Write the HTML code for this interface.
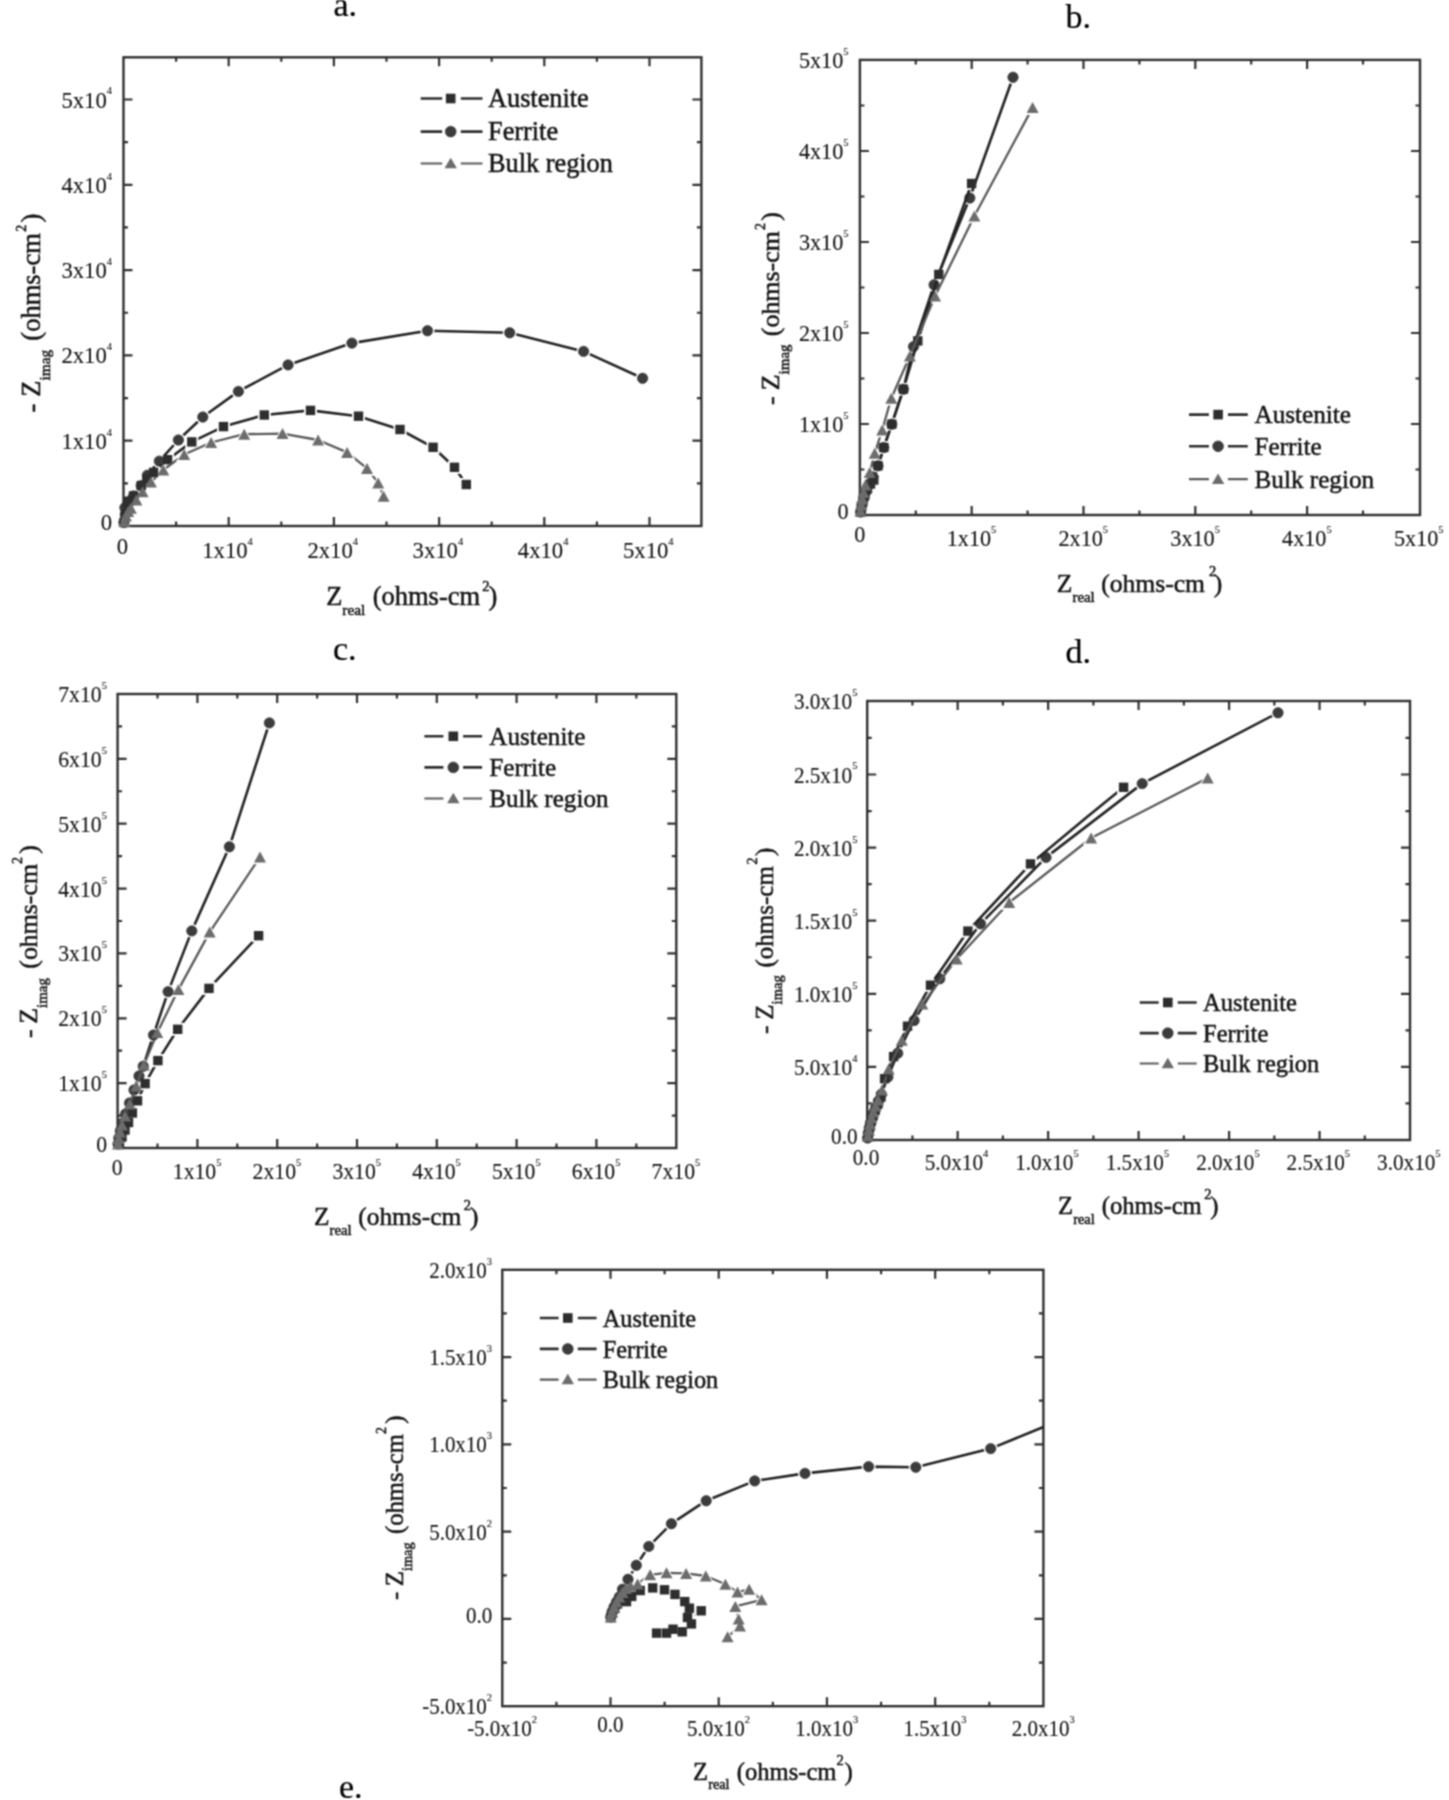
<!DOCTYPE html><html><head><meta charset="utf-8"><style>html,body{margin:0;padding:0;background:#fff;}svg{display:block;}text{fill:#141414;stroke:#141414;stroke-width:0.5px;}text.t{stroke-width:0.12px;}</style></head><body>
<svg width="1449" height="1800" viewBox="0 0 1449 1800" font-family='"Liberation Serif", serif' fill="#262626">
<rect width="1449" height="1800" fill="#fff"/>
<filter id="bl" x="0" y="0" width="1" height="1" filterUnits="objectBoundingBox" color-interpolation-filters="sRGB"><feConvolveMatrix order="3" kernelMatrix="1 2 1 2 4 2 1 2 1" divisor="16" edgeMode="none"/></filter>
<g filter="url(#bl)"><rect width="1449" height="1800" fill="#fff"/>
<text x="333.5" y="16.2" font-size="34" style="fill:#000;stroke:#000;stroke-width:0.2px">a.</text>
<text x="1065.5" y="28.4" font-size="34" style="fill:#000;stroke:#000;stroke-width:0.2px">b.</text>
<text x="333" y="660" font-size="34" style="fill:#000;stroke:#000;stroke-width:0.2px">c.</text>
<text x="1065.5" y="663.1" font-size="34" style="fill:#000;stroke:#000;stroke-width:0.2px">d.</text>
<text x="339" y="1798" font-size="34" style="fill:#000;stroke:#000;stroke-width:0.2px">e.</text>
<rect x="123.5" y="57.3" width="577.9" height="468.7" fill="none" stroke="#303030" stroke-width="2.4"/>
<path d="M176.1 526V521.5M176.1 57.3V61.8M228.7 526V517M228.7 57.3V66.3M281.3 526V521.5M281.3 57.3V61.8M333.9 526V517M333.9 57.3V66.3M386.5 526V521.5M386.5 57.3V61.8M439.1 526V517M439.1 57.3V66.3M491.7 526V521.5M491.7 57.3V61.8M544.3 526V517M544.3 57.3V66.3M596.9 526V521.5M596.9 57.3V61.8M649.5 526V517M649.5 57.3V66.3M123.5 483.35H128M701.4 483.35H696.9M123.5 440.7H132.5M701.4 440.7H692.4M123.5 398.05H128M701.4 398.05H696.9M123.5 355.4H132.5M701.4 355.4H692.4M123.5 312.75H128M701.4 312.75H696.9M123.5 270.1H132.5M701.4 270.1H692.4M123.5 227.45H128M701.4 227.45H696.9M123.5 184.8H132.5M701.4 184.8H692.4M123.5 142.15H128M701.4 142.15H696.9M123.5 99.5H132.5M701.4 99.5H692.4" stroke="#303030" stroke-width="2.2" fill="none"/>
<text class="t" transform="translate(122.3 553.5) scale(1 1.06)" text-anchor="middle" font-size="22.7">0</text>
<text class="t" transform="translate(227.5 557.8) scale(1 1.06)" text-anchor="middle" font-size="22.7">1x10<tspan font-size="10.5" dy="-12.3">4</tspan></text>
<text class="t" transform="translate(332.7 557.8) scale(1 1.06)" text-anchor="middle" font-size="22.7">2x10<tspan font-size="10.5" dy="-12.3">4</tspan></text>
<text class="t" transform="translate(437.9 557.8) scale(1 1.06)" text-anchor="middle" font-size="22.7">3x10<tspan font-size="10.5" dy="-12.3">4</tspan></text>
<text class="t" transform="translate(543.1 557.8) scale(1 1.06)" text-anchor="middle" font-size="22.7">4x10<tspan font-size="10.5" dy="-12.3">4</tspan></text>
<text class="t" transform="translate(648.3 557.8) scale(1 1.06)" text-anchor="middle" font-size="22.7">5x10<tspan font-size="10.5" dy="-12.3">4</tspan></text>
<text class="t" transform="translate(112.2 529.8) scale(1 1.06)" text-anchor="end" font-size="22.7">0</text>
<text class="t" transform="translate(112 448.7) scale(1 1.06)" text-anchor="end" font-size="22.7">1x10<tspan font-size="10.5" dy="-12.3">4</tspan></text>
<text class="t" transform="translate(112 363.4) scale(1 1.06)" text-anchor="end" font-size="22.7">2x10<tspan font-size="10.5" dy="-12.3">4</tspan></text>
<text class="t" transform="translate(112 278.1) scale(1 1.06)" text-anchor="end" font-size="22.7">3x10<tspan font-size="10.5" dy="-12.3">4</tspan></text>
<text class="t" transform="translate(112 192.8) scale(1 1.06)" text-anchor="end" font-size="22.7">4x10<tspan font-size="10.5" dy="-12.3">4</tspan></text>
<text class="t" transform="translate(112 107.5) scale(1 1.06)" text-anchor="end" font-size="22.7">5x10<tspan font-size="10.5" dy="-12.3">4</tspan></text>
<text x="326.13" y="605" font-size="26.5">Z<tspan font-size="15.37" dy="10.34">real</tspan></text>
<text x="372.63" y="605" font-size="26.5">(ohms-cm</text>
<text x="482.36" y="590.8" font-size="14.5">2</text>
<text x="488.54" y="605" font-size="26.5">)</text>
<text transform="translate(39.8 412.48) rotate(-90)" font-size="26.5">-</text>
<text transform="translate(39.8 396.77) rotate(-90)" font-size="26.5">Z<tspan font-size="15.37" dy="9.8">imag</tspan></text>
<text transform="translate(39.8 340.67) rotate(-90)" font-size="26.5">(ohms-cm</text>
<text transform="translate(25.6 231.72) rotate(-90)" font-size="14">2</text>
<text transform="translate(39.8 222.56) rotate(-90)" font-size="26.5">)</text>
<mask id="m1" maskUnits="userSpaceOnUse" x="0" y="0" width="1449" height="1800"><rect width="1449" height="1800" fill="#fff"/><circle cx="123.9" cy="522.5" r="7" fill="#000"/><circle cx="125.3" cy="514.5" r="7" fill="#000"/><circle cx="124.9" cy="507.6" r="7" fill="#000"/><circle cx="128.8" cy="501.4" r="7" fill="#000"/><circle cx="133.6" cy="495.9" r="7" fill="#000"/><circle cx="141.2" cy="485.6" r="7" fill="#000"/><circle cx="147.4" cy="475.2" r="7" fill="#000"/><circle cx="159.3" cy="461.1" r="7" fill="#000"/><circle cx="178.4" cy="440" r="7" fill="#000"/><circle cx="202.8" cy="417" r="7" fill="#000"/><circle cx="238.4" cy="391.4" r="7" fill="#000"/><circle cx="288.1" cy="364.9" r="7" fill="#000"/><circle cx="351.9" cy="343.1" r="7" fill="#000"/><circle cx="427.5" cy="330.7" r="7" fill="#000"/><circle cx="509.7" cy="332.8" r="7" fill="#000"/><circle cx="583.6" cy="351.4" r="7" fill="#000"/><circle cx="642.6" cy="378.3" r="7" fill="#000"/></mask>
<path d="M123.9 522.5L125.3 514.5L124.9 507.6L128.8 501.4L133.6 495.9L141.2 485.6L147.4 475.2L159.3 461.1L178.4 440L202.8 417L238.4 391.4L288.1 364.9L351.9 343.1L427.5 330.7L509.7 332.8L583.6 351.4L642.6 378.3" stroke="#242424" stroke-width="2.6" fill="none" stroke-linejoin="round" mask="url(#m1)"/>
<circle cx="123.9" cy="522.5" r="5.2" fill="#3c3c3c" stroke="#2a2a2a" stroke-width="0.6"/>
<circle cx="125.3" cy="514.5" r="5.2" fill="#3c3c3c" stroke="#2a2a2a" stroke-width="0.6"/>
<circle cx="124.9" cy="507.6" r="5.2" fill="#3c3c3c" stroke="#2a2a2a" stroke-width="0.6"/>
<circle cx="128.8" cy="501.4" r="5.2" fill="#3c3c3c" stroke="#2a2a2a" stroke-width="0.6"/>
<circle cx="133.6" cy="495.9" r="5.2" fill="#3c3c3c" stroke="#2a2a2a" stroke-width="0.6"/>
<circle cx="141.2" cy="485.6" r="5.2" fill="#3c3c3c" stroke="#2a2a2a" stroke-width="0.6"/>
<circle cx="147.4" cy="475.2" r="5.2" fill="#3c3c3c" stroke="#2a2a2a" stroke-width="0.6"/>
<circle cx="159.3" cy="461.1" r="5.2" fill="#3c3c3c" stroke="#2a2a2a" stroke-width="0.6"/>
<circle cx="178.4" cy="440" r="5.2" fill="#3c3c3c" stroke="#2a2a2a" stroke-width="0.6"/>
<circle cx="202.8" cy="417" r="5.2" fill="#3c3c3c" stroke="#2a2a2a" stroke-width="0.6"/>
<circle cx="238.4" cy="391.4" r="5.2" fill="#3c3c3c" stroke="#2a2a2a" stroke-width="0.6"/>
<circle cx="288.1" cy="364.9" r="5.2" fill="#3c3c3c" stroke="#2a2a2a" stroke-width="0.6"/>
<circle cx="351.9" cy="343.1" r="5.2" fill="#3c3c3c" stroke="#2a2a2a" stroke-width="0.6"/>
<circle cx="427.5" cy="330.7" r="5.2" fill="#3c3c3c" stroke="#2a2a2a" stroke-width="0.6"/>
<circle cx="509.7" cy="332.8" r="5.2" fill="#3c3c3c" stroke="#2a2a2a" stroke-width="0.6"/>
<circle cx="583.6" cy="351.4" r="5.2" fill="#3c3c3c" stroke="#2a2a2a" stroke-width="0.6"/>
<circle cx="642.6" cy="378.3" r="5.2" fill="#3c3c3c" stroke="#2a2a2a" stroke-width="0.6"/>
<mask id="m2" maskUnits="userSpaceOnUse" x="0" y="0" width="1449" height="1800"><rect width="1449" height="1800" fill="#fff"/><rect x="117.4" y="516" width="13" height="13" fill="#000"/><rect x="118.8" y="508" width="13" height="13" fill="#000"/><rect x="120.7" y="501" width="13" height="13" fill="#000"/><rect x="122.3" y="494.9" width="13" height="13" fill="#000"/><rect x="127.1" y="489.4" width="13" height="13" fill="#000"/><rect x="134.7" y="479.1" width="13" height="13" fill="#000"/><rect x="140.3" y="472.5" width="13" height="13" fill="#000"/><rect x="147.1" y="465.9" width="13" height="13" fill="#000"/><rect x="161.1" y="453.2" width="13" height="13" fill="#000"/><rect x="185.3" y="435.4" width="13" height="13" fill="#000"/><rect x="217" y="420.1" width="13" height="13" fill="#000"/><rect x="257.8" y="408.5" width="13" height="13" fill="#000"/><rect x="304" y="403.9" width="13" height="13" fill="#000"/><rect x="352" y="409.7" width="13" height="13" fill="#000"/><rect x="393.5" y="423" width="13" height="13" fill="#000"/><rect x="426.6" y="440.8" width="13" height="13" fill="#000"/><rect x="448" y="460.8" width="13" height="13" fill="#000"/><rect x="459.8" y="478" width="13" height="13" fill="#000"/></mask>
<path d="M123.9 522.5L125.3 514.5L127.2 507.5L128.8 501.4L133.6 495.9L141.2 485.6L146.8 479L153.6 472.4L167.6 459.7L191.8 441.9L223.5 426.6L264.3 415L310.5 410.4L358.5 416.2L400 429.5L433.1 447.3L454.5 467.3L466.3 484.5" stroke="#242424" stroke-width="2.6" fill="none" stroke-linejoin="round" mask="url(#m2)"/>
<rect x="119.2" y="517.8" width="9.4" height="9.4" fill="#2e2e2e"/>
<rect x="120.6" y="509.8" width="9.4" height="9.4" fill="#2e2e2e"/>
<rect x="122.5" y="502.8" width="9.4" height="9.4" fill="#2e2e2e"/>
<rect x="124.1" y="496.7" width="9.4" height="9.4" fill="#2e2e2e"/>
<rect x="128.9" y="491.2" width="9.4" height="9.4" fill="#2e2e2e"/>
<rect x="136.5" y="480.9" width="9.4" height="9.4" fill="#2e2e2e"/>
<rect x="142.1" y="474.3" width="9.4" height="9.4" fill="#2e2e2e"/>
<rect x="148.9" y="467.7" width="9.4" height="9.4" fill="#2e2e2e"/>
<rect x="162.9" y="455" width="9.4" height="9.4" fill="#2e2e2e"/>
<rect x="187.1" y="437.2" width="9.4" height="9.4" fill="#2e2e2e"/>
<rect x="218.8" y="421.9" width="9.4" height="9.4" fill="#2e2e2e"/>
<rect x="259.6" y="410.3" width="9.4" height="9.4" fill="#2e2e2e"/>
<rect x="305.8" y="405.7" width="9.4" height="9.4" fill="#2e2e2e"/>
<rect x="353.8" y="411.5" width="9.4" height="9.4" fill="#2e2e2e"/>
<rect x="395.3" y="424.8" width="9.4" height="9.4" fill="#2e2e2e"/>
<rect x="428.4" y="442.6" width="9.4" height="9.4" fill="#2e2e2e"/>
<rect x="449.8" y="462.6" width="9.4" height="9.4" fill="#2e2e2e"/>
<rect x="461.6" y="479.8" width="9.4" height="9.4" fill="#2e2e2e"/>
<mask id="m3" maskUnits="userSpaceOnUse" x="0" y="0" width="1449" height="1800"><rect width="1449" height="1800" fill="#fff"/><path d="M124.4 514.2L132.74 528.8L116.06 528.8Z" fill="#000"/><path d="M126 508.7L134.34 523.3L117.66 523.3Z" fill="#000"/><path d="M128.2 504.2L136.54 518.8L119.86 518.8Z" fill="#000"/><path d="M130.9 501L139.24 515.6L122.56 515.6Z" fill="#000"/><path d="M136.4 492.7L144.74 507.3L128.06 507.3Z" fill="#000"/><path d="M142.6 484.5L150.94 499.1L134.26 499.1Z" fill="#000"/><path d="M150.9 474.8L159.24 489.4L142.56 489.4Z" fill="#000"/><path d="M163.3 462.7L171.64 477.3L154.96 477.3Z" fill="#000"/><path d="M184.2 447.2L192.54 461.8L175.86 461.8Z" fill="#000"/><path d="M211.1 435.2L219.44 449.8L202.76 449.8Z" fill="#000"/><path d="M244.2 426.9L252.54 441.5L235.86 441.5Z" fill="#000"/><path d="M282.5 426.3L290.84 440.9L274.16 440.9Z" fill="#000"/><path d="M318.1 432.7L326.44 447.3L309.76 447.3Z" fill="#000"/><path d="M347.1 445.1L355.44 459.7L338.76 459.7Z" fill="#000"/><path d="M367 461.1L375.34 475.7L358.66 475.7Z" fill="#000"/><path d="M378.2 475.6L386.54 490.2L369.86 490.2Z" fill="#000"/><path d="M383.6 489L391.94 503.6L375.26 503.6Z" fill="#000"/></mask>
<path d="M124.4 521.5L126 516L128.2 511.5L130.9 508.3L136.4 500L142.6 491.8L150.9 482.1L163.3 470L184.2 454.5L211.1 442.5L244.2 434.2L282.5 433.6L318.1 440L347.1 452.4L367 468.4L378.2 482.9L383.6 496.3" stroke="#5a5a5a" stroke-width="2.3" fill="none" stroke-linejoin="round" mask="url(#m3)"/>
<path d="M124.4 516L130.4 527L118.4 527Z" fill="#6c6c6c"/>
<path d="M126 510.5L132 521.5L120 521.5Z" fill="#6c6c6c"/>
<path d="M128.2 506L134.2 517L122.2 517Z" fill="#6c6c6c"/>
<path d="M130.9 502.8L136.9 513.8L124.9 513.8Z" fill="#6c6c6c"/>
<path d="M136.4 494.5L142.4 505.5L130.4 505.5Z" fill="#6c6c6c"/>
<path d="M142.6 486.3L148.6 497.3L136.6 497.3Z" fill="#6c6c6c"/>
<path d="M150.9 476.6L156.9 487.6L144.9 487.6Z" fill="#6c6c6c"/>
<path d="M163.3 464.5L169.3 475.5L157.3 475.5Z" fill="#6c6c6c"/>
<path d="M184.2 449L190.2 460L178.2 460Z" fill="#6c6c6c"/>
<path d="M211.1 437L217.1 448L205.1 448Z" fill="#6c6c6c"/>
<path d="M244.2 428.7L250.2 439.7L238.2 439.7Z" fill="#6c6c6c"/>
<path d="M282.5 428.1L288.5 439.1L276.5 439.1Z" fill="#6c6c6c"/>
<path d="M318.1 434.5L324.1 445.5L312.1 445.5Z" fill="#6c6c6c"/>
<path d="M347.1 446.9L353.1 457.9L341.1 457.9Z" fill="#6c6c6c"/>
<path d="M367 462.9L373 473.9L361 473.9Z" fill="#6c6c6c"/>
<path d="M378.2 477.4L384.2 488.4L372.2 488.4Z" fill="#6c6c6c"/>
<path d="M383.6 490.8L389.6 501.8L377.6 501.8Z" fill="#6c6c6c"/>
<path d="M420.7 98.5H442.2M460.8 98.5H482.5" stroke="#2e2e2e" stroke-width="2.6"/>
<rect x="445.9" y="93.7" width="9.6" height="9.6" fill="#2e2e2e"/>
<text x="488" y="107.1" font-size="26.3">Austenite</text>
<path d="M420.7 131.6H442.2M460.8 131.6H482.5" stroke="#2e2e2e" stroke-width="2.6"/>
<circle cx="450.7" cy="131.6" r="5.4" fill="#3c3c3c" stroke="#2a2a2a" stroke-width="0.6"/>
<text x="488" y="140.2" font-size="26.3">Ferrite</text>
<path d="M420.7 163.5H442.2M460.8 163.5H482.5" stroke="#5a5a5a" stroke-width="2.2"/>
<path d="M450.7 157.75L456.9 168.25L444.5 168.25Z" fill="#6c6c6c"/>
<text x="488" y="172.1" font-size="26.3">Bulk region</text>
<rect x="859.9" y="59.9" width="560.1" height="455.1" fill="none" stroke="#303030" stroke-width="2.4"/>
<path d="M915.8 515V510.5M915.8 59.9V64.4M971.7 515V506M971.7 59.9V68.9M1027.6 515V510.5M1027.6 59.9V64.4M1083.5 515V506M1083.5 59.9V68.9M1139.4 515V510.5M1139.4 59.9V64.4M1195.3 515V506M1195.3 59.9V68.9M1251.2 515V510.5M1251.2 59.9V64.4M1307.1 515V506M1307.1 59.9V68.9M1363 515V510.5M1363 59.9V64.4M859.9 469.5H864.4M1420 469.5H1415.5M859.9 424H868.9M1420 424H1411M859.9 378.5H864.4M1420 378.5H1415.5M859.9 333H868.9M1420 333H1411M859.9 287.5H864.4M1420 287.5H1415.5M859.9 242H868.9M1420 242H1411M859.9 196.5H864.4M1420 196.5H1415.5M859.9 151H868.9M1420 151H1411M859.9 105.5H864.4M1420 105.5H1415.5" stroke="#303030" stroke-width="2.2" fill="none"/>
<text class="t" transform="translate(859.7 541.9) scale(1 1.06)" text-anchor="middle" font-size="22.2">0</text>
<text class="t" transform="translate(971.5 546.2) scale(1 1.06)" text-anchor="middle" font-size="22.2">1x10<tspan font-size="10.5" dy="-12.3">5</tspan></text>
<text class="t" transform="translate(1083.3 546.2) scale(1 1.06)" text-anchor="middle" font-size="22.2">2x10<tspan font-size="10.5" dy="-12.3">5</tspan></text>
<text class="t" transform="translate(1195.1 546.2) scale(1 1.06)" text-anchor="middle" font-size="22.2">3x10<tspan font-size="10.5" dy="-12.3">5</tspan></text>
<text class="t" transform="translate(1306.9 546.2) scale(1 1.06)" text-anchor="middle" font-size="22.2">4x10<tspan font-size="10.5" dy="-12.3">5</tspan></text>
<text class="t" transform="translate(1418.7 546.2) scale(1 1.06)" text-anchor="middle" font-size="22.2">5x10<tspan font-size="10.5" dy="-12.3">5</tspan></text>
<text class="t" transform="translate(848.7 518.8) scale(1 1.06)" text-anchor="end" font-size="22.2">0</text>
<text class="t" transform="translate(848.5 432) scale(1 1.06)" text-anchor="end" font-size="22.2">1x10<tspan font-size="10.5" dy="-12.3">5</tspan></text>
<text class="t" transform="translate(848.5 341) scale(1 1.06)" text-anchor="end" font-size="22.2">2x10<tspan font-size="10.5" dy="-12.3">5</tspan></text>
<text class="t" transform="translate(848.5 250) scale(1 1.06)" text-anchor="end" font-size="22.2">3x10<tspan font-size="10.5" dy="-12.3">5</tspan></text>
<text class="t" transform="translate(848.5 159) scale(1 1.06)" text-anchor="end" font-size="22.2">4x10<tspan font-size="10.5" dy="-12.3">5</tspan></text>
<text class="t" transform="translate(848.5 68) scale(1 1.06)" text-anchor="end" font-size="22.2">5x10<tspan font-size="10.5" dy="-12.3">5</tspan></text>
<text x="1056.87" y="591.7" font-size="25.6">Z<tspan font-size="14.85" dy="9.98">real</tspan></text>
<text x="1101.17" y="591.7" font-size="25.6">(ohms-cm</text>
<text x="1208.96" y="576.4" font-size="14.5">2</text>
<text x="1213.8" y="591.7" font-size="25.6">)</text>
<text transform="translate(779.3 404.96) rotate(-90)" font-size="25.9">-</text>
<text transform="translate(779.3 390.24) rotate(-90)" font-size="25.9">Z<tspan font-size="15.02" dy="9.58">imag</tspan></text>
<text transform="translate(779.3 336.14) rotate(-90)" font-size="25.9">(ohms-cm</text>
<text transform="translate(764.7 229.92) rotate(-90)" font-size="14">2</text>
<text transform="translate(779.3 220.79) rotate(-90)" font-size="25.9">)</text>
<mask id="m4" maskUnits="userSpaceOnUse" x="0" y="0" width="1449" height="1800"><rect width="1449" height="1800" fill="#fff"/><circle cx="860.6" cy="512" r="7" fill="#000"/><circle cx="862" cy="505" r="7" fill="#000"/><circle cx="864" cy="498" r="7" fill="#000"/><circle cx="866.5" cy="491" r="7" fill="#000"/><circle cx="869.5" cy="484" r="7" fill="#000"/><circle cx="873" cy="477" r="7" fill="#000"/><circle cx="878" cy="465.8" r="7" fill="#000"/><circle cx="883.8" cy="447.5" r="7" fill="#000"/><circle cx="891.8" cy="424.2" r="7" fill="#000"/><circle cx="903.4" cy="389.2" r="7" fill="#000"/><circle cx="913.5" cy="346.6" r="7" fill="#000"/><circle cx="934.1" cy="284.8" r="7" fill="#000"/><circle cx="969.8" cy="198" r="7" fill="#000"/><circle cx="1013" cy="77.3" r="7" fill="#000"/></mask>
<path d="M860.6 512L862 505L864 498L866.5 491L869.5 484L873 477L878 465.8L883.8 447.5L891.8 424.2L903.4 389.2L913.5 346.6L934.1 284.8L969.8 198L1013 77.3" stroke="#242424" stroke-width="2.6" fill="none" stroke-linejoin="round" mask="url(#m4)"/>
<circle cx="860.6" cy="512" r="5.2" fill="#3c3c3c" stroke="#2a2a2a" stroke-width="0.6"/>
<circle cx="862" cy="505" r="5.2" fill="#3c3c3c" stroke="#2a2a2a" stroke-width="0.6"/>
<circle cx="864" cy="498" r="5.2" fill="#3c3c3c" stroke="#2a2a2a" stroke-width="0.6"/>
<circle cx="866.5" cy="491" r="5.2" fill="#3c3c3c" stroke="#2a2a2a" stroke-width="0.6"/>
<circle cx="869.5" cy="484" r="5.2" fill="#3c3c3c" stroke="#2a2a2a" stroke-width="0.6"/>
<circle cx="873" cy="477" r="5.2" fill="#3c3c3c" stroke="#2a2a2a" stroke-width="0.6"/>
<circle cx="878" cy="465.8" r="5.2" fill="#3c3c3c" stroke="#2a2a2a" stroke-width="0.6"/>
<circle cx="883.8" cy="447.5" r="5.2" fill="#3c3c3c" stroke="#2a2a2a" stroke-width="0.6"/>
<circle cx="891.8" cy="424.2" r="5.2" fill="#3c3c3c" stroke="#2a2a2a" stroke-width="0.6"/>
<circle cx="903.4" cy="389.2" r="5.2" fill="#3c3c3c" stroke="#2a2a2a" stroke-width="0.6"/>
<circle cx="913.5" cy="346.6" r="5.2" fill="#3c3c3c" stroke="#2a2a2a" stroke-width="0.6"/>
<circle cx="934.1" cy="284.8" r="5.2" fill="#3c3c3c" stroke="#2a2a2a" stroke-width="0.6"/>
<circle cx="969.8" cy="198" r="5.2" fill="#3c3c3c" stroke="#2a2a2a" stroke-width="0.6"/>
<circle cx="1013" cy="77.3" r="5.2" fill="#3c3c3c" stroke="#2a2a2a" stroke-width="0.6"/>
<mask id="m5" maskUnits="userSpaceOnUse" x="0" y="0" width="1449" height="1800"><rect width="1449" height="1800" fill="#fff"/><rect x="854.1" y="505.5" width="13" height="13" fill="#000"/><rect x="855" y="499.5" width="13" height="13" fill="#000"/><rect x="856.5" y="493.5" width="13" height="13" fill="#000"/><rect x="858.5" y="487.5" width="13" height="13" fill="#000"/><rect x="861" y="482" width="13" height="13" fill="#000"/><rect x="864" y="477.5" width="13" height="13" fill="#000"/><rect x="867.3" y="473.5" width="13" height="13" fill="#000"/><rect x="871.5" y="459.3" width="13" height="13" fill="#000"/><rect x="877.3" y="441" width="13" height="13" fill="#000"/><rect x="885.3" y="417.7" width="13" height="13" fill="#000"/><rect x="896.9" y="382.7" width="13" height="13" fill="#000"/><rect x="911.3" y="334.4" width="13" height="13" fill="#000"/><rect x="932.3" y="267.9" width="13" height="13" fill="#000"/><rect x="965.1" y="177" width="13" height="13" fill="#000"/></mask>
<path d="M860.6 512L861.5 506L863 500L865 494L867.5 488.5L870.5 484L873.8 480L878 465.8L883.8 447.5L891.8 424.2L903.4 389.2L917.8 340.9L938.8 274.4L971.6 183.5" stroke="#242424" stroke-width="2.6" fill="none" stroke-linejoin="round" mask="url(#m5)"/>
<rect x="855.9" y="507.3" width="9.4" height="9.4" fill="#2e2e2e"/>
<rect x="856.8" y="501.3" width="9.4" height="9.4" fill="#2e2e2e"/>
<rect x="858.3" y="495.3" width="9.4" height="9.4" fill="#2e2e2e"/>
<rect x="860.3" y="489.3" width="9.4" height="9.4" fill="#2e2e2e"/>
<rect x="862.8" y="483.8" width="9.4" height="9.4" fill="#2e2e2e"/>
<rect x="865.8" y="479.3" width="9.4" height="9.4" fill="#2e2e2e"/>
<rect x="869.1" y="475.3" width="9.4" height="9.4" fill="#2e2e2e"/>
<rect x="873.3" y="461.1" width="9.4" height="9.4" fill="#2e2e2e"/>
<rect x="879.1" y="442.8" width="9.4" height="9.4" fill="#2e2e2e"/>
<rect x="887.1" y="419.5" width="9.4" height="9.4" fill="#2e2e2e"/>
<rect x="898.7" y="384.5" width="9.4" height="9.4" fill="#2e2e2e"/>
<rect x="913.1" y="336.2" width="9.4" height="9.4" fill="#2e2e2e"/>
<rect x="934.1" y="269.7" width="9.4" height="9.4" fill="#2e2e2e"/>
<rect x="966.9" y="178.8" width="9.4" height="9.4" fill="#2e2e2e"/>
<mask id="m6" maskUnits="userSpaceOnUse" x="0" y="0" width="1449" height="1800"><rect width="1449" height="1800" fill="#fff"/><path d="M860.5 503.7L868.84 518.3L852.16 518.3Z" fill="#000"/><path d="M861.3 497.7L869.64 512.3L852.96 512.3Z" fill="#000"/><path d="M862.3 491.7L870.64 506.3L853.96 506.3Z" fill="#000"/><path d="M863.6 485.2L871.94 499.8L855.26 499.8Z" fill="#000"/><path d="M865.5 477.7L873.84 492.3L857.16 492.3Z" fill="#000"/><path d="M869.7 465.2L878.04 479.8L861.36 479.8Z" fill="#000"/><path d="M874.7 446L883.04 460.6L866.36 460.6Z" fill="#000"/><path d="M882.2 422.7L890.54 437.3L873.86 437.3Z" fill="#000"/><path d="M891.3 391L899.64 405.6L882.96 405.6Z" fill="#000"/><path d="M909.9 348.7L918.24 363.3L901.56 363.3Z" fill="#000"/><path d="M935.1 288.8L943.44 303.4L926.76 303.4Z" fill="#000"/><path d="M974.4 208.7L982.74 223.3L966.06 223.3Z" fill="#000"/><path d="M1032.6 100.3L1040.94 114.9L1024.26 114.9Z" fill="#000"/></mask>
<path d="M860.5 511L861.3 505L862.3 499L863.6 492.5L865.5 485L869.7 472.5L874.7 453.3L882.2 430L891.3 398.3L909.9 356L935.1 296.1L974.4 216L1032.6 107.6" stroke="#5a5a5a" stroke-width="2.3" fill="none" stroke-linejoin="round" mask="url(#m6)"/>
<path d="M860.5 505.5L866.5 516.5L854.5 516.5Z" fill="#6c6c6c"/>
<path d="M861.3 499.5L867.3 510.5L855.3 510.5Z" fill="#6c6c6c"/>
<path d="M862.3 493.5L868.3 504.5L856.3 504.5Z" fill="#6c6c6c"/>
<path d="M863.6 487L869.6 498L857.6 498Z" fill="#6c6c6c"/>
<path d="M865.5 479.5L871.5 490.5L859.5 490.5Z" fill="#6c6c6c"/>
<path d="M869.7 467L875.7 478L863.7 478Z" fill="#6c6c6c"/>
<path d="M874.7 447.8L880.7 458.8L868.7 458.8Z" fill="#6c6c6c"/>
<path d="M882.2 424.5L888.2 435.5L876.2 435.5Z" fill="#6c6c6c"/>
<path d="M891.3 392.8L897.3 403.8L885.3 403.8Z" fill="#6c6c6c"/>
<path d="M909.9 350.5L915.9 361.5L903.9 361.5Z" fill="#6c6c6c"/>
<path d="M935.1 290.6L941.1 301.6L929.1 301.6Z" fill="#6c6c6c"/>
<path d="M974.4 210.5L980.4 221.5L968.4 221.5Z" fill="#6c6c6c"/>
<path d="M1032.6 102.1L1038.6 113.1L1026.6 113.1Z" fill="#6c6c6c"/>
<path d="M1189 414.6H1208.9M1227.9 414.6H1247.8" stroke="#2e2e2e" stroke-width="2.6"/>
<rect x="1213.3" y="409.8" width="9.6" height="9.6" fill="#2e2e2e"/>
<text x="1254.5" y="423.2" font-size="25.2">Austenite</text>
<path d="M1189 446.3H1208.9M1227.9 446.3H1247.8" stroke="#2e2e2e" stroke-width="2.6"/>
<circle cx="1218.1" cy="446.3" r="5.4" fill="#3c3c3c" stroke="#2a2a2a" stroke-width="0.6"/>
<text x="1254.5" y="454.9" font-size="25.2">Ferrite</text>
<path d="M1189 479.2H1208.9M1227.9 479.2H1247.8" stroke="#5a5a5a" stroke-width="2.2"/>
<path d="M1218.1 473.45L1224.3 483.95L1211.9 483.95Z" fill="#6c6c6c"/>
<text x="1254.5" y="487.8" font-size="25.2">Bulk region</text>
<rect x="117.6" y="694" width="558.7" height="454" fill="none" stroke="#303030" stroke-width="2.4"/>
<path d="M157.5 1148V1143.5M157.5 694V698.5M197.4 1148V1139M197.4 694V703M237.3 1148V1143.5M237.3 694V698.5M277.2 1148V1139M277.2 694V703M317.1 1148V1143.5M317.1 694V698.5M357 1148V1139M357 694V703M396.9 1148V1143.5M396.9 694V698.5M436.8 1148V1139M436.8 694V703M476.7 1148V1143.5M476.7 694V698.5M516.6 1148V1139M516.6 694V703M556.5 1148V1143.5M556.5 694V698.5M596.4 1148V1139M596.4 694V703M636.3 1148V1143.5M636.3 694V698.5M117.6 1115.57H122.1M676.3 1115.57H671.8M117.6 1083.14H126.6M676.3 1083.14H667.3M117.6 1050.71H122.1M676.3 1050.71H671.8M117.6 1018.28H126.6M676.3 1018.28H667.3M117.6 985.85H122.1M676.3 985.85H671.8M117.6 953.42H126.6M676.3 953.42H667.3M117.6 920.99H122.1M676.3 920.99H671.8M117.6 888.56H126.6M676.3 888.56H667.3M117.6 856.13H122.1M676.3 856.13H671.8M117.6 823.7H126.6M676.3 823.7H667.3M117.6 791.27H122.1M676.3 791.27H671.8M117.6 758.84H126.6M676.3 758.84H667.3M117.6 726.41H122.1M676.3 726.41H671.8" stroke="#303030" stroke-width="2.2" fill="none"/>
<text class="t" transform="translate(117.3 1174.6) scale(1 1.06)" text-anchor="middle" font-size="21.7">0</text>
<text class="t" transform="translate(197.1 1178.9) scale(1 1.06)" text-anchor="middle" font-size="21.7">1x10<tspan font-size="10.5" dy="-12.3">5</tspan></text>
<text class="t" transform="translate(276.9 1178.9) scale(1 1.06)" text-anchor="middle" font-size="21.7">2x10<tspan font-size="10.5" dy="-12.3">5</tspan></text>
<text class="t" transform="translate(356.7 1178.9) scale(1 1.06)" text-anchor="middle" font-size="21.7">3x10<tspan font-size="10.5" dy="-12.3">5</tspan></text>
<text class="t" transform="translate(436.5 1178.9) scale(1 1.06)" text-anchor="middle" font-size="21.7">4x10<tspan font-size="10.5" dy="-12.3">5</tspan></text>
<text class="t" transform="translate(516.3 1178.9) scale(1 1.06)" text-anchor="middle" font-size="21.7">5x10<tspan font-size="10.5" dy="-12.3">5</tspan></text>
<text class="t" transform="translate(596.1 1178.9) scale(1 1.06)" text-anchor="middle" font-size="21.7">6x10<tspan font-size="10.5" dy="-12.3">5</tspan></text>
<text class="t" transform="translate(675.9 1178.9) scale(1 1.06)" text-anchor="middle" font-size="21.7">7x10<tspan font-size="10.5" dy="-12.3">5</tspan></text>
<text class="t" transform="translate(107.1 1151.8) scale(1 1.06)" text-anchor="end" font-size="21.7">0</text>
<text class="t" transform="translate(106.9 1091.14) scale(1 1.06)" text-anchor="end" font-size="21.7">1x10<tspan font-size="10.5" dy="-12.3">5</tspan></text>
<text class="t" transform="translate(106.9 1026.28) scale(1 1.06)" text-anchor="end" font-size="21.7">2x10<tspan font-size="10.5" dy="-12.3">5</tspan></text>
<text class="t" transform="translate(106.9 961.42) scale(1 1.06)" text-anchor="end" font-size="21.7">3x10<tspan font-size="10.5" dy="-12.3">5</tspan></text>
<text class="t" transform="translate(106.9 896.56) scale(1 1.06)" text-anchor="end" font-size="21.7">4x10<tspan font-size="10.5" dy="-12.3">5</tspan></text>
<text class="t" transform="translate(106.9 831.7) scale(1 1.06)" text-anchor="end" font-size="21.7">5x10<tspan font-size="10.5" dy="-12.3">5</tspan></text>
<text class="t" transform="translate(106.9 766.84) scale(1 1.06)" text-anchor="end" font-size="21.7">6x10<tspan font-size="10.5" dy="-12.3">5</tspan></text>
<text class="t" transform="translate(106.9 701.98) scale(1 1.06)" text-anchor="end" font-size="21.7">7x10<tspan font-size="10.5" dy="-12.3">5</tspan></text>
<text x="313.98" y="1225.2" font-size="25.4">Z<tspan font-size="14.73" dy="9.91">real</tspan></text>
<text x="358.28" y="1225.2" font-size="25.4">(ohms-cm</text>
<text x="463.66" y="1209.9" font-size="14.5">2</text>
<text x="470.06" y="1225.2" font-size="25.4">)</text>
<text transform="translate(37 1037.95) rotate(-90)" font-size="25.8">-</text>
<text transform="translate(37 1023.74) rotate(-90)" font-size="25.8">Z<tspan font-size="14.96" dy="9.55">imag</tspan></text>
<text transform="translate(37 968.64) rotate(-90)" font-size="25.8">(ohms-cm</text>
<text transform="translate(21.7 864.12) rotate(-90)" font-size="14">2</text>
<text transform="translate(37 853.66) rotate(-90)" font-size="25.8">)</text>
<mask id="m7" maskUnits="userSpaceOnUse" x="0" y="0" width="1449" height="1800"><rect width="1449" height="1800" fill="#fff"/><circle cx="118" cy="1144" r="7" fill="#000"/><circle cx="118.8" cy="1138" r="7" fill="#000"/><circle cx="120.3" cy="1131" r="7" fill="#000"/><circle cx="122.5" cy="1123" r="7" fill="#000"/><circle cx="125.5" cy="1114" r="7" fill="#000"/><circle cx="129.5" cy="1103" r="7" fill="#000"/><circle cx="134" cy="1090" r="7" fill="#000"/><circle cx="139" cy="1076" r="7" fill="#000"/><circle cx="143.2" cy="1066.3" r="7" fill="#000"/><circle cx="153.5" cy="1035" r="7" fill="#000"/><circle cx="168.1" cy="991.6" r="7" fill="#000"/><circle cx="191.8" cy="930.9" r="7" fill="#000"/><circle cx="229.4" cy="846.8" r="7" fill="#000"/><circle cx="269.4" cy="722.9" r="7" fill="#000"/></mask>
<path d="M118 1144L118.8 1138L120.3 1131L122.5 1123L125.5 1114L129.5 1103L134 1090L139 1076L143.2 1066.3L153.5 1035L168.1 991.6L191.8 930.9L229.4 846.8L269.4 722.9" stroke="#242424" stroke-width="2.6" fill="none" stroke-linejoin="round" mask="url(#m7)"/>
<circle cx="118" cy="1144" r="5.2" fill="#3c3c3c" stroke="#2a2a2a" stroke-width="0.6"/>
<circle cx="118.8" cy="1138" r="5.2" fill="#3c3c3c" stroke="#2a2a2a" stroke-width="0.6"/>
<circle cx="120.3" cy="1131" r="5.2" fill="#3c3c3c" stroke="#2a2a2a" stroke-width="0.6"/>
<circle cx="122.5" cy="1123" r="5.2" fill="#3c3c3c" stroke="#2a2a2a" stroke-width="0.6"/>
<circle cx="125.5" cy="1114" r="5.2" fill="#3c3c3c" stroke="#2a2a2a" stroke-width="0.6"/>
<circle cx="129.5" cy="1103" r="5.2" fill="#3c3c3c" stroke="#2a2a2a" stroke-width="0.6"/>
<circle cx="134" cy="1090" r="5.2" fill="#3c3c3c" stroke="#2a2a2a" stroke-width="0.6"/>
<circle cx="139" cy="1076" r="5.2" fill="#3c3c3c" stroke="#2a2a2a" stroke-width="0.6"/>
<circle cx="143.2" cy="1066.3" r="5.2" fill="#3c3c3c" stroke="#2a2a2a" stroke-width="0.6"/>
<circle cx="153.5" cy="1035" r="5.2" fill="#3c3c3c" stroke="#2a2a2a" stroke-width="0.6"/>
<circle cx="168.1" cy="991.6" r="5.2" fill="#3c3c3c" stroke="#2a2a2a" stroke-width="0.6"/>
<circle cx="191.8" cy="930.9" r="5.2" fill="#3c3c3c" stroke="#2a2a2a" stroke-width="0.6"/>
<circle cx="229.4" cy="846.8" r="5.2" fill="#3c3c3c" stroke="#2a2a2a" stroke-width="0.6"/>
<circle cx="269.4" cy="722.9" r="5.2" fill="#3c3c3c" stroke="#2a2a2a" stroke-width="0.6"/>
<mask id="m8" maskUnits="userSpaceOnUse" x="0" y="0" width="1449" height="1800"><rect width="1449" height="1800" fill="#fff"/><rect x="113" y="1136.5" width="13" height="13" fill="#000"/><rect x="115.5" y="1130.5" width="13" height="13" fill="#000"/><rect x="118.5" y="1123.5" width="13" height="13" fill="#000"/><rect x="122" y="1116" width="13" height="13" fill="#000"/><rect x="125.9" y="1106.5" width="13" height="13" fill="#000"/><rect x="131" y="1094.3" width="13" height="13" fill="#000"/><rect x="138.6" y="1077.1" width="13" height="13" fill="#000"/><rect x="151.4" y="1054.1" width="13" height="13" fill="#000"/><rect x="171.2" y="1022.8" width="13" height="13" fill="#000"/><rect x="202.5" y="981.9" width="13" height="13" fill="#000"/><rect x="252.1" y="929.2" width="13" height="13" fill="#000"/></mask>
<path d="M119.5 1143L122 1137L125 1130L128.5 1122.5L132.4 1113L137.5 1100.8L145.1 1083.6L157.9 1060.6L177.7 1029.3L209 988.4L258.6 935.7" stroke="#242424" stroke-width="2.6" fill="none" stroke-linejoin="round" mask="url(#m8)"/>
<rect x="114.8" y="1138.3" width="9.4" height="9.4" fill="#2e2e2e"/>
<rect x="117.3" y="1132.3" width="9.4" height="9.4" fill="#2e2e2e"/>
<rect x="120.3" y="1125.3" width="9.4" height="9.4" fill="#2e2e2e"/>
<rect x="123.8" y="1117.8" width="9.4" height="9.4" fill="#2e2e2e"/>
<rect x="127.7" y="1108.3" width="9.4" height="9.4" fill="#2e2e2e"/>
<rect x="132.8" y="1096.1" width="9.4" height="9.4" fill="#2e2e2e"/>
<rect x="140.4" y="1078.9" width="9.4" height="9.4" fill="#2e2e2e"/>
<rect x="153.2" y="1055.9" width="9.4" height="9.4" fill="#2e2e2e"/>
<rect x="173" y="1024.6" width="9.4" height="9.4" fill="#2e2e2e"/>
<rect x="204.3" y="983.7" width="9.4" height="9.4" fill="#2e2e2e"/>
<rect x="253.9" y="931" width="9.4" height="9.4" fill="#2e2e2e"/>
<mask id="m9" maskUnits="userSpaceOnUse" x="0" y="0" width="1449" height="1800"><rect width="1449" height="1800" fill="#fff"/><path d="M118 1136.7L126.34 1151.3L109.66 1151.3Z" fill="#000"/><path d="M118.8 1131.2L127.14 1145.8L110.46 1145.8Z" fill="#000"/><path d="M120 1124.7L128.34 1139.3L111.66 1139.3Z" fill="#000"/><path d="M122 1117.7L130.34 1132.3L113.66 1132.3Z" fill="#000"/><path d="M125 1108.7L133.34 1123.3L116.66 1123.3Z" fill="#000"/><path d="M129.8 1096.7L138.14 1111.3L121.46 1111.3Z" fill="#000"/><path d="M136.2 1078.8L144.54 1093.4L127.86 1093.4Z" fill="#000"/><path d="M143.9 1057.7L152.24 1072.3L135.56 1072.3Z" fill="#000"/><path d="M157.3 1025.2L165.64 1039.8L148.96 1039.8Z" fill="#000"/><path d="M178.4 982.3L186.74 996.9L170.06 996.9Z" fill="#000"/><path d="M209.7 924.8L218.04 939.4L201.36 939.4Z" fill="#000"/><path d="M260 849.7L268.34 864.3L251.66 864.3Z" fill="#000"/></mask>
<path d="M118 1144L118.8 1138.5L120 1132L122 1125L125 1116L129.8 1104L136.2 1086.1L143.9 1065L157.3 1032.5L178.4 989.6L209.7 932.1L260 857" stroke="#5a5a5a" stroke-width="2.3" fill="none" stroke-linejoin="round" mask="url(#m9)"/>
<path d="M118 1138.5L124 1149.5L112 1149.5Z" fill="#6c6c6c"/>
<path d="M118.8 1133L124.8 1144L112.8 1144Z" fill="#6c6c6c"/>
<path d="M120 1126.5L126 1137.5L114 1137.5Z" fill="#6c6c6c"/>
<path d="M122 1119.5L128 1130.5L116 1130.5Z" fill="#6c6c6c"/>
<path d="M125 1110.5L131 1121.5L119 1121.5Z" fill="#6c6c6c"/>
<path d="M129.8 1098.5L135.8 1109.5L123.8 1109.5Z" fill="#6c6c6c"/>
<path d="M136.2 1080.6L142.2 1091.6L130.2 1091.6Z" fill="#6c6c6c"/>
<path d="M143.9 1059.5L149.9 1070.5L137.9 1070.5Z" fill="#6c6c6c"/>
<path d="M157.3 1027L163.3 1038L151.3 1038Z" fill="#6c6c6c"/>
<path d="M178.4 984.1L184.4 995.1L172.4 995.1Z" fill="#6c6c6c"/>
<path d="M209.7 926.6L215.7 937.6L203.7 937.6Z" fill="#6c6c6c"/>
<path d="M260 851.5L266 862.5L254 862.5Z" fill="#6c6c6c"/>
<path d="M424.4 736.3H443.4M463.1 736.3H482.1" stroke="#2e2e2e" stroke-width="2.6"/>
<rect x="448.5" y="731.5" width="9.6" height="9.6" fill="#2e2e2e"/>
<text x="489.3" y="744.9" font-size="25.1">Austenite</text>
<path d="M424.4 767.4H443.4M463.1 767.4H482.1" stroke="#2e2e2e" stroke-width="2.6"/>
<circle cx="453.3" cy="767.4" r="5.4" fill="#3c3c3c" stroke="#2a2a2a" stroke-width="0.6"/>
<text x="489.3" y="776" font-size="25.1">Ferrite</text>
<path d="M424.4 798.5H443.4M463.1 798.5H482.1" stroke="#5a5a5a" stroke-width="2.2"/>
<path d="M453.3 792.75L459.5 803.25L447.1 803.25Z" fill="#6c6c6c"/>
<text x="489.3" y="807.1" font-size="25.1">Bulk region</text>
<rect x="867.2" y="701" width="542.8" height="439" fill="none" stroke="#303030" stroke-width="2.4"/>
<path d="M912.44 1140V1135.5M912.44 701V705.5M957.67 1140V1131M957.67 701V710M1002.9 1140V1135.5M1002.9 701V705.5M1048.14 1140V1131M1048.14 701V710M1093.38 1140V1135.5M1093.38 701V705.5M1138.61 1140V1131M1138.61 701V710M1183.85 1140V1135.5M1183.85 701V705.5M1229.08 1140V1131M1229.08 701V710M1274.32 1140V1135.5M1274.32 701V705.5M1319.55 1140V1131M1319.55 701V710M1364.79 1140V1135.5M1364.79 701V705.5M867.2 1103.45H871.7M1410 1103.45H1405.5M867.2 1066.9H876.2M1410 1066.9H1401M867.2 1030.35H871.7M1410 1030.35H1405.5M867.2 993.8H876.2M1410 993.8H1401M867.2 957.25H871.7M1410 957.25H1405.5M867.2 920.7H876.2M1410 920.7H1401M867.2 884.15H871.7M1410 884.15H1405.5M867.2 847.6H876.2M1410 847.6H1401M867.2 811.05H871.7M1410 811.05H1405.5M867.2 774.5H876.2M1410 774.5H1401M867.2 737.95H871.7M1410 737.95H1405.5" stroke="#303030" stroke-width="2.2" fill="none"/>
<text class="t" transform="translate(866 1165.3) scale(1 1.06)" text-anchor="middle" font-size="21.2">0.0</text>
<text class="t" transform="translate(956.47 1169.6) scale(1 1.06)" text-anchor="middle" font-size="21.2">5.0x10<tspan font-size="10.5" dy="-12.3">4</tspan></text>
<text class="t" transform="translate(1046.94 1169.6) scale(1 1.06)" text-anchor="middle" font-size="21.2">1.0x10<tspan font-size="10.5" dy="-12.3">5</tspan></text>
<text class="t" transform="translate(1137.41 1169.6) scale(1 1.06)" text-anchor="middle" font-size="21.2">1.5x10<tspan font-size="10.5" dy="-12.3">5</tspan></text>
<text class="t" transform="translate(1227.88 1169.6) scale(1 1.06)" text-anchor="middle" font-size="21.2">2.0x10<tspan font-size="10.5" dy="-12.3">5</tspan></text>
<text class="t" transform="translate(1318.35 1169.6) scale(1 1.06)" text-anchor="middle" font-size="21.2">2.5x10<tspan font-size="10.5" dy="-12.3">5</tspan></text>
<text class="t" transform="translate(1408.82 1169.6) scale(1 1.06)" text-anchor="middle" font-size="21.2">3.0x10<tspan font-size="10.5" dy="-12.3">5</tspan></text>
<text class="t" transform="translate(857.6 1143.8) scale(1 1.06)" text-anchor="end" font-size="21.2">0.0</text>
<text class="t" transform="translate(857.4 1074.9) scale(1 1.06)" text-anchor="end" font-size="21.2">5.0x10<tspan font-size="10.5" dy="-12.3">4</tspan></text>
<text class="t" transform="translate(857.4 1001.8) scale(1 1.06)" text-anchor="end" font-size="21.2">1.0x10<tspan font-size="10.5" dy="-12.3">5</tspan></text>
<text class="t" transform="translate(857.4 928.7) scale(1 1.06)" text-anchor="end" font-size="21.2">1.5x10<tspan font-size="10.5" dy="-12.3">5</tspan></text>
<text class="t" transform="translate(857.4 855.6) scale(1 1.06)" text-anchor="end" font-size="21.2">2.0x10<tspan font-size="10.5" dy="-12.3">5</tspan></text>
<text class="t" transform="translate(857.4 782.5) scale(1 1.06)" text-anchor="end" font-size="21.2">2.5x10<tspan font-size="10.5" dy="-12.3">5</tspan></text>
<text class="t" transform="translate(857.4 709.4) scale(1 1.06)" text-anchor="end" font-size="21.2">3.0x10<tspan font-size="10.5" dy="-12.3">5</tspan></text>
<text x="1058.11" y="1214.2" font-size="24.7">Z<tspan font-size="14.33" dy="9.63">real</tspan></text>
<text x="1101.71" y="1214.2" font-size="24.7">(ohms-cm</text>
<text x="1204.36" y="1198.9" font-size="14.5">2</text>
<text x="1210.26" y="1214.2" font-size="24.7">)</text>
<text transform="translate(773 1033.93) rotate(-90)" font-size="25.05">-</text>
<text transform="translate(773 1019.7) rotate(-90)" font-size="25.05">Z<tspan font-size="14.53" dy="9.27">imag</tspan></text>
<text transform="translate(773 967.6) rotate(-90)" font-size="25.05">(ohms-cm</text>
<text transform="translate(757.3 864.62) rotate(-90)" font-size="14">2</text>
<text transform="translate(773 855.94) rotate(-90)" font-size="25.05">)</text>
<mask id="m10" maskUnits="userSpaceOnUse" x="0" y="0" width="1449" height="1800"><rect width="1449" height="1800" fill="#fff"/><circle cx="867.6" cy="1138" r="7" fill="#000"/><circle cx="868.3" cy="1133" r="7" fill="#000"/><circle cx="869.2" cy="1128" r="7" fill="#000"/><circle cx="870.4" cy="1123" r="7" fill="#000"/><circle cx="872" cy="1118" r="7" fill="#000"/><circle cx="873.8" cy="1112.5" r="7" fill="#000"/><circle cx="876" cy="1107" r="7" fill="#000"/><circle cx="878.5" cy="1101" r="7" fill="#000"/><circle cx="881.3" cy="1094.3" r="7" fill="#000"/><circle cx="887.9" cy="1077" r="7" fill="#000"/><circle cx="897.7" cy="1053.3" r="7" fill="#000"/><circle cx="914.1" cy="1020.5" r="7" fill="#000"/><circle cx="939.8" cy="978.7" r="7" fill="#000"/><circle cx="980.5" cy="923.8" r="7" fill="#000"/><circle cx="1046" cy="857.4" r="7" fill="#000"/><circle cx="1142.2" cy="783.6" r="7" fill="#000"/><circle cx="1278" cy="712.8" r="7" fill="#000"/></mask>
<path d="M867.6 1138L868.3 1133L869.2 1128L870.4 1123L872 1118L873.8 1112.5L876 1107L878.5 1101L881.3 1094.3L887.9 1077L897.7 1053.3L914.1 1020.5L939.8 978.7L980.5 923.8L1046 857.4L1142.2 783.6L1278 712.8" stroke="#242424" stroke-width="2.6" fill="none" stroke-linejoin="round" mask="url(#m10)"/>
<circle cx="867.6" cy="1138" r="5.2" fill="#3c3c3c" stroke="#2a2a2a" stroke-width="0.6"/>
<circle cx="868.3" cy="1133" r="5.2" fill="#3c3c3c" stroke="#2a2a2a" stroke-width="0.6"/>
<circle cx="869.2" cy="1128" r="5.2" fill="#3c3c3c" stroke="#2a2a2a" stroke-width="0.6"/>
<circle cx="870.4" cy="1123" r="5.2" fill="#3c3c3c" stroke="#2a2a2a" stroke-width="0.6"/>
<circle cx="872" cy="1118" r="5.2" fill="#3c3c3c" stroke="#2a2a2a" stroke-width="0.6"/>
<circle cx="873.8" cy="1112.5" r="5.2" fill="#3c3c3c" stroke="#2a2a2a" stroke-width="0.6"/>
<circle cx="876" cy="1107" r="5.2" fill="#3c3c3c" stroke="#2a2a2a" stroke-width="0.6"/>
<circle cx="878.5" cy="1101" r="5.2" fill="#3c3c3c" stroke="#2a2a2a" stroke-width="0.6"/>
<circle cx="881.3" cy="1094.3" r="5.2" fill="#3c3c3c" stroke="#2a2a2a" stroke-width="0.6"/>
<circle cx="887.9" cy="1077" r="5.2" fill="#3c3c3c" stroke="#2a2a2a" stroke-width="0.6"/>
<circle cx="897.7" cy="1053.3" r="5.2" fill="#3c3c3c" stroke="#2a2a2a" stroke-width="0.6"/>
<circle cx="914.1" cy="1020.5" r="5.2" fill="#3c3c3c" stroke="#2a2a2a" stroke-width="0.6"/>
<circle cx="939.8" cy="978.7" r="5.2" fill="#3c3c3c" stroke="#2a2a2a" stroke-width="0.6"/>
<circle cx="980.5" cy="923.8" r="5.2" fill="#3c3c3c" stroke="#2a2a2a" stroke-width="0.6"/>
<circle cx="1046" cy="857.4" r="5.2" fill="#3c3c3c" stroke="#2a2a2a" stroke-width="0.6"/>
<circle cx="1142.2" cy="783.6" r="5.2" fill="#3c3c3c" stroke="#2a2a2a" stroke-width="0.6"/>
<circle cx="1278" cy="712.8" r="5.2" fill="#3c3c3c" stroke="#2a2a2a" stroke-width="0.6"/>
<mask id="m11" maskUnits="userSpaceOnUse" x="0" y="0" width="1449" height="1800"><rect width="1449" height="1800" fill="#fff"/><rect x="861.3" y="1130.5" width="13" height="13" fill="#000"/><rect x="862.2" y="1125.5" width="13" height="13" fill="#000"/><rect x="863.3" y="1120.5" width="13" height="13" fill="#000"/><rect x="864.7" y="1115" width="13" height="13" fill="#000"/><rect x="866.5" y="1109.5" width="13" height="13" fill="#000"/><rect x="868.8" y="1103.5" width="13" height="13" fill="#000"/><rect x="871.5" y="1097.5" width="13" height="13" fill="#000"/><rect x="874.5" y="1090.5" width="13" height="13" fill="#000"/><rect x="878.1" y="1072.2" width="13" height="13" fill="#000"/><rect x="887.1" y="1050.1" width="13" height="13" fill="#000"/><rect x="901" y="1019.7" width="13" height="13" fill="#000"/><rect x="924" y="978.7" width="13" height="13" fill="#000"/><rect x="961.4" y="924.6" width="13" height="13" fill="#000"/><rect x="1024" y="857.4" width="13" height="13" fill="#000"/><rect x="1117.1" y="780.8" width="13" height="13" fill="#000"/></mask>
<path d="M867.8 1137L868.7 1132L869.8 1127L871.2 1121.5L873 1116L875.3 1110L878 1104L881 1097L884.6 1078.7L893.6 1056.6L907.5 1026.2L930.5 985.2L967.9 931.1L1030.5 863.9L1087 817L1123.6 787.3" stroke="#242424" stroke-width="2.6" fill="none" stroke-linejoin="round" mask="url(#m11)"/>
<rect x="863.1" y="1132.3" width="9.4" height="9.4" fill="#2e2e2e"/>
<rect x="864" y="1127.3" width="9.4" height="9.4" fill="#2e2e2e"/>
<rect x="865.1" y="1122.3" width="9.4" height="9.4" fill="#2e2e2e"/>
<rect x="866.5" y="1116.8" width="9.4" height="9.4" fill="#2e2e2e"/>
<rect x="868.3" y="1111.3" width="9.4" height="9.4" fill="#2e2e2e"/>
<rect x="870.6" y="1105.3" width="9.4" height="9.4" fill="#2e2e2e"/>
<rect x="873.3" y="1099.3" width="9.4" height="9.4" fill="#2e2e2e"/>
<rect x="876.3" y="1092.3" width="9.4" height="9.4" fill="#2e2e2e"/>
<rect x="879.9" y="1074" width="9.4" height="9.4" fill="#2e2e2e"/>
<rect x="888.9" y="1051.9" width="9.4" height="9.4" fill="#2e2e2e"/>
<rect x="902.8" y="1021.5" width="9.4" height="9.4" fill="#2e2e2e"/>
<rect x="925.8" y="980.5" width="9.4" height="9.4" fill="#2e2e2e"/>
<rect x="963.2" y="926.4" width="9.4" height="9.4" fill="#2e2e2e"/>
<rect x="1025.8" y="859.2" width="9.4" height="9.4" fill="#2e2e2e"/>
<rect x="1118.9" y="782.6" width="9.4" height="9.4" fill="#2e2e2e"/>
<mask id="m12" maskUnits="userSpaceOnUse" x="0" y="0" width="1449" height="1800"><rect width="1449" height="1800" fill="#fff"/><path d="M867.9 1128.7L876.24 1143.3L859.56 1143.3Z" fill="#000"/><path d="M868.8 1122.7L877.14 1137.3L860.46 1137.3Z" fill="#000"/><path d="M870 1116.7L878.34 1131.3L861.66 1131.3Z" fill="#000"/><path d="M871.5 1110.7L879.84 1125.3L863.16 1125.3Z" fill="#000"/><path d="M873.3 1104.7L881.64 1119.3L864.96 1119.3Z" fill="#000"/><path d="M875.5 1098.7L883.84 1113.3L867.16 1113.3Z" fill="#000"/><path d="M878 1092.7L886.34 1107.3L869.66 1107.3Z" fill="#000"/><path d="M882 1082.7L890.34 1097.3L873.66 1097.3Z" fill="#000"/><path d="M888.7 1061.6L897.04 1076.2L880.36 1076.2Z" fill="#000"/><path d="M901.8 1032.9L910.14 1047.5L893.46 1047.5Z" fill="#000"/><path d="M922.3 996.8L930.64 1011.4L913.96 1011.4Z" fill="#000"/><path d="M956.7 951.7L965.04 966.3L948.36 966.3Z" fill="#000"/><path d="M1009.2 895.2L1017.54 909.8L1000.86 909.8Z" fill="#000"/><path d="M1091.1 830.7L1099.44 845.3L1082.76 845.3Z" fill="#000"/><path d="M1207.7 770.7L1216.04 785.3L1199.36 785.3Z" fill="#000"/></mask>
<path d="M867.9 1136L868.8 1130L870 1124L871.5 1118L873.3 1112L875.5 1106L878 1100L882 1090L888.7 1068.9L901.8 1040.2L922.3 1004.1L956.7 959L1009.2 902.5L1091.1 838L1207.7 778" stroke="#5a5a5a" stroke-width="2.3" fill="none" stroke-linejoin="round" mask="url(#m12)"/>
<path d="M867.9 1130.5L873.9 1141.5L861.9 1141.5Z" fill="#6c6c6c"/>
<path d="M868.8 1124.5L874.8 1135.5L862.8 1135.5Z" fill="#6c6c6c"/>
<path d="M870 1118.5L876 1129.5L864 1129.5Z" fill="#6c6c6c"/>
<path d="M871.5 1112.5L877.5 1123.5L865.5 1123.5Z" fill="#6c6c6c"/>
<path d="M873.3 1106.5L879.3 1117.5L867.3 1117.5Z" fill="#6c6c6c"/>
<path d="M875.5 1100.5L881.5 1111.5L869.5 1111.5Z" fill="#6c6c6c"/>
<path d="M878 1094.5L884 1105.5L872 1105.5Z" fill="#6c6c6c"/>
<path d="M882 1084.5L888 1095.5L876 1095.5Z" fill="#6c6c6c"/>
<path d="M888.7 1063.4L894.7 1074.4L882.7 1074.4Z" fill="#6c6c6c"/>
<path d="M901.8 1034.7L907.8 1045.7L895.8 1045.7Z" fill="#6c6c6c"/>
<path d="M922.3 998.6L928.3 1009.6L916.3 1009.6Z" fill="#6c6c6c"/>
<path d="M956.7 953.5L962.7 964.5L950.7 964.5Z" fill="#6c6c6c"/>
<path d="M1009.2 897L1015.2 908L1003.2 908Z" fill="#6c6c6c"/>
<path d="M1091.1 832.5L1097.1 843.5L1085.1 843.5Z" fill="#6c6c6c"/>
<path d="M1207.7 772.5L1213.7 783.5L1201.7 783.5Z" fill="#6c6c6c"/>
<path d="M1139.7 1002.5H1158.7M1177.7 1002.5H1196.7" stroke="#2e2e2e" stroke-width="2.6"/>
<rect x="1163" y="997.7" width="9.6" height="9.6" fill="#2e2e2e"/>
<text x="1203" y="1011.1" font-size="24.5">Austenite</text>
<path d="M1139.7 1033.1H1158.7M1177.7 1033.1H1196.7" stroke="#2e2e2e" stroke-width="2.6"/>
<circle cx="1167.8" cy="1033.1" r="5.4" fill="#3c3c3c" stroke="#2a2a2a" stroke-width="0.6"/>
<text x="1203" y="1041.7" font-size="24.5">Ferrite</text>
<path d="M1139.7 1063.5H1158.7M1177.7 1063.5H1196.7" stroke="#5a5a5a" stroke-width="2.2"/>
<path d="M1167.8 1057.75L1174 1068.25L1161.6 1068.25Z" fill="#6c6c6c"/>
<text x="1203" y="1072.1" font-size="24.5">Bulk region</text>
<rect x="502.3" y="1269.8" width="541.1" height="436.4" fill="none" stroke="#303030" stroke-width="2.4"/>
<path d="M556.41 1706.2V1701.7M556.41 1269.8V1274.3M610.52 1706.2V1697.2M610.52 1269.8V1278.8M664.63 1706.2V1701.7M664.63 1269.8V1274.3M718.74 1706.2V1697.2M718.74 1269.8V1278.8M772.85 1706.2V1701.7M772.85 1269.8V1274.3M826.96 1706.2V1697.2M826.96 1269.8V1278.8M881.07 1706.2V1701.7M881.07 1269.8V1274.3M935.18 1706.2V1697.2M935.18 1269.8V1278.8M989.29 1706.2V1701.7M989.29 1269.8V1274.3M502.3 1662.56H506.8M1043.4 1662.56H1038.9M502.3 1618.92H511.3M1043.4 1618.92H1034.4M502.3 1575.28H506.8M1043.4 1575.28H1038.9M502.3 1531.64H511.3M1043.4 1531.64H1034.4M502.3 1488H506.8M1043.4 1488H1038.9M502.3 1444.36H511.3M1043.4 1444.36H1034.4M502.3 1400.72H506.8M1043.4 1400.72H1038.9M502.3 1357.08H511.3M1043.4 1357.08H1034.4M502.3 1313.44H506.8M1043.4 1313.44H1038.9" stroke="#303030" stroke-width="2.2" fill="none"/>
<text class="t" transform="translate(502.1 1736) scale(1 1.06)" text-anchor="middle" font-size="21.0">-5.0x10<tspan font-size="10.5" dy="-12.3">2</tspan></text>
<text class="t" transform="translate(610.32 1731.7) scale(1 1.06)" text-anchor="middle" font-size="21.0">0.0</text>
<text class="t" transform="translate(718.54 1736) scale(1 1.06)" text-anchor="middle" font-size="21.0">5.0x10<tspan font-size="10.5" dy="-12.3">2</tspan></text>
<text class="t" transform="translate(826.76 1736) scale(1 1.06)" text-anchor="middle" font-size="21.0">1.0x10<tspan font-size="10.5" dy="-12.3">3</tspan></text>
<text class="t" transform="translate(934.98 1736) scale(1 1.06)" text-anchor="middle" font-size="21.0">1.5x10<tspan font-size="10.5" dy="-12.3">3</tspan></text>
<text class="t" transform="translate(1043.2 1736) scale(1 1.06)" text-anchor="middle" font-size="21.0">2.0x10<tspan font-size="10.5" dy="-12.3">3</tspan></text>
<text class="t" transform="translate(492.1 1714.2) scale(1 1.06)" text-anchor="end" font-size="21.0">-5.0x10<tspan font-size="10.5" dy="-12.3">2</tspan></text>
<text class="t" transform="translate(492.3 1622.72) scale(1 1.06)" text-anchor="end" font-size="21.0">0.0</text>
<text class="t" transform="translate(492.1 1539.64) scale(1 1.06)" text-anchor="end" font-size="21.0">5.0x10<tspan font-size="10.5" dy="-12.3">2</tspan></text>
<text class="t" transform="translate(492.1 1452.36) scale(1 1.06)" text-anchor="end" font-size="21.0">1.0x10<tspan font-size="10.5" dy="-12.3">3</tspan></text>
<text class="t" transform="translate(492.1 1365.08) scale(1 1.06)" text-anchor="end" font-size="21.0">1.5x10<tspan font-size="10.5" dy="-12.3">3</tspan></text>
<text class="t" transform="translate(492.1 1277.8) scale(1 1.06)" text-anchor="end" font-size="21.0">2.0x10<tspan font-size="10.5" dy="-12.3">3</tspan></text>
<text x="693.12" y="1779.8" font-size="24.6">Z<tspan font-size="14.27" dy="9.59">real</tspan></text>
<text x="736.72" y="1779.8" font-size="24.6">(ohms-cm</text>
<text x="836.56" y="1764.7" font-size="14.5">2</text>
<text x="844.39" y="1779.8" font-size="24.6">)</text>
<text transform="translate(402.5 1599.91) rotate(-90)" font-size="24.7">-</text>
<text transform="translate(402.5 1586.19) rotate(-90)" font-size="24.7">Z<tspan font-size="14.33" dy="9.14">imag</tspan></text>
<text transform="translate(402.5 1534.09) rotate(-90)" font-size="24.7">(ohms-cm</text>
<text transform="translate(386 1433.92) rotate(-90)" font-size="14">2</text>
<text transform="translate(402.5 1423.84) rotate(-90)" font-size="24.7">)</text>
<mask id="m13" maskUnits="userSpaceOnUse" x="0" y="0" width="1449" height="1800"><rect width="1449" height="1800" fill="#fff"/><rect x="604.3" y="1611" width="13" height="13" fill="#000"/><rect x="606" y="1606.5" width="13" height="13" fill="#000"/><rect x="608.3" y="1602" width="13" height="13" fill="#000"/><rect x="611" y="1597.5" width="13" height="13" fill="#000"/><rect x="614" y="1593.5" width="13" height="13" fill="#000"/><rect x="617.1" y="1591" width="13" height="13" fill="#000"/><rect x="620" y="1595.1" width="13" height="13" fill="#000"/><rect x="625.2" y="1589.9" width="13" height="13" fill="#000"/><rect x="633.7" y="1584" width="13" height="13" fill="#000"/><rect x="646.2" y="1581.4" width="13" height="13" fill="#000"/><rect x="658" y="1583.3" width="13" height="13" fill="#000"/><rect x="668.5" y="1587.9" width="13" height="13" fill="#000"/><rect x="678.3" y="1595.1" width="13" height="13" fill="#000"/><rect x="682.9" y="1601.7" width="13" height="13" fill="#000"/><rect x="694.7" y="1604.3" width="13" height="13" fill="#000"/><rect x="681" y="1611" width="13" height="13" fill="#000"/><rect x="684.9" y="1617.4" width="13" height="13" fill="#000"/><rect x="675.7" y="1625.3" width="13" height="13" fill="#000"/><rect x="666.5" y="1622.7" width="13" height="13" fill="#000"/><rect x="660" y="1626.6" width="13" height="13" fill="#000"/><rect x="650.1" y="1626.6" width="13" height="13" fill="#000"/></mask>
<path d="M610.8 1617.5L612.5 1613L614.8 1608.5L617.5 1604L620.5 1600L623.6 1597.5L626.5 1601.6L631.7 1596.4L640.2 1590.5L652.7 1587.9L664.5 1589.8L675 1594.4L684.8 1601.6L689.4 1608.2L701.2 1610.8L687.5 1617.5L691.4 1623.9L682.2 1631.8L673 1629.2L666.5 1633.1L656.6 1633.1" stroke="#242424" stroke-width="2.6" fill="none" stroke-linejoin="round" mask="url(#m13)"/>
<rect x="606.1" y="1612.8" width="9.4" height="9.4" fill="#2e2e2e"/>
<rect x="607.8" y="1608.3" width="9.4" height="9.4" fill="#2e2e2e"/>
<rect x="610.1" y="1603.8" width="9.4" height="9.4" fill="#2e2e2e"/>
<rect x="612.8" y="1599.3" width="9.4" height="9.4" fill="#2e2e2e"/>
<rect x="615.8" y="1595.3" width="9.4" height="9.4" fill="#2e2e2e"/>
<rect x="618.9" y="1592.8" width="9.4" height="9.4" fill="#2e2e2e"/>
<rect x="621.8" y="1596.9" width="9.4" height="9.4" fill="#2e2e2e"/>
<rect x="627" y="1591.7" width="9.4" height="9.4" fill="#2e2e2e"/>
<rect x="635.5" y="1585.8" width="9.4" height="9.4" fill="#2e2e2e"/>
<rect x="648" y="1583.2" width="9.4" height="9.4" fill="#2e2e2e"/>
<rect x="659.8" y="1585.1" width="9.4" height="9.4" fill="#2e2e2e"/>
<rect x="670.3" y="1589.7" width="9.4" height="9.4" fill="#2e2e2e"/>
<rect x="680.1" y="1596.9" width="9.4" height="9.4" fill="#2e2e2e"/>
<rect x="684.7" y="1603.5" width="9.4" height="9.4" fill="#2e2e2e"/>
<rect x="696.5" y="1606.1" width="9.4" height="9.4" fill="#2e2e2e"/>
<rect x="682.8" y="1612.8" width="9.4" height="9.4" fill="#2e2e2e"/>
<rect x="686.7" y="1619.2" width="9.4" height="9.4" fill="#2e2e2e"/>
<rect x="677.5" y="1627.1" width="9.4" height="9.4" fill="#2e2e2e"/>
<rect x="668.3" y="1624.5" width="9.4" height="9.4" fill="#2e2e2e"/>
<rect x="661.8" y="1628.4" width="9.4" height="9.4" fill="#2e2e2e"/>
<rect x="651.9" y="1628.4" width="9.4" height="9.4" fill="#2e2e2e"/>
<mask id="m14" maskUnits="userSpaceOnUse" x="0" y="0" width="1449" height="1800"><rect width="1449" height="1800" fill="#fff"/><circle cx="610.7" cy="1617" r="7" fill="#000"/><circle cx="612" cy="1612" r="7" fill="#000"/><circle cx="614" cy="1607" r="7" fill="#000"/><circle cx="616.5" cy="1602" r="7" fill="#000"/><circle cx="619.3" cy="1597" r="7" fill="#000"/><circle cx="622.5" cy="1589.2" r="7" fill="#000"/><circle cx="628" cy="1579.3" r="7" fill="#000"/><circle cx="636.3" cy="1565.3" r="7" fill="#000"/><circle cx="648.8" cy="1546.4" r="7" fill="#000"/><circle cx="671.4" cy="1523.7" r="7" fill="#000"/><circle cx="706.2" cy="1500.7" r="7" fill="#000"/><circle cx="754.7" cy="1480.9" r="7" fill="#000"/><circle cx="805" cy="1473.4" r="7" fill="#000"/><circle cx="868.6" cy="1466.6" r="7" fill="#000"/><circle cx="915.8" cy="1467.2" r="7" fill="#000"/><circle cx="990.7" cy="1448.6" r="7" fill="#000"/></mask>
<path d="M610.7 1617L612 1612L614 1607L616.5 1602L619.3 1597L622.5 1589.2L628 1579.3L636.3 1565.3L648.8 1546.4L671.4 1523.7L706.2 1500.7L754.7 1480.9L805 1473.4L868.6 1466.6L915.8 1467.2L990.7 1448.6L1043.4 1427" stroke="#242424" stroke-width="2.6" fill="none" stroke-linejoin="round" mask="url(#m14)"/>
<circle cx="610.7" cy="1617" r="5.2" fill="#3c3c3c" stroke="#2a2a2a" stroke-width="0.6"/>
<circle cx="612" cy="1612" r="5.2" fill="#3c3c3c" stroke="#2a2a2a" stroke-width="0.6"/>
<circle cx="614" cy="1607" r="5.2" fill="#3c3c3c" stroke="#2a2a2a" stroke-width="0.6"/>
<circle cx="616.5" cy="1602" r="5.2" fill="#3c3c3c" stroke="#2a2a2a" stroke-width="0.6"/>
<circle cx="619.3" cy="1597" r="5.2" fill="#3c3c3c" stroke="#2a2a2a" stroke-width="0.6"/>
<circle cx="622.5" cy="1589.2" r="5.2" fill="#3c3c3c" stroke="#2a2a2a" stroke-width="0.6"/>
<circle cx="628" cy="1579.3" r="5.2" fill="#3c3c3c" stroke="#2a2a2a" stroke-width="0.6"/>
<circle cx="636.3" cy="1565.3" r="5.2" fill="#3c3c3c" stroke="#2a2a2a" stroke-width="0.6"/>
<circle cx="648.8" cy="1546.4" r="5.2" fill="#3c3c3c" stroke="#2a2a2a" stroke-width="0.6"/>
<circle cx="671.4" cy="1523.7" r="5.2" fill="#3c3c3c" stroke="#2a2a2a" stroke-width="0.6"/>
<circle cx="706.2" cy="1500.7" r="5.2" fill="#3c3c3c" stroke="#2a2a2a" stroke-width="0.6"/>
<circle cx="754.7" cy="1480.9" r="5.2" fill="#3c3c3c" stroke="#2a2a2a" stroke-width="0.6"/>
<circle cx="805" cy="1473.4" r="5.2" fill="#3c3c3c" stroke="#2a2a2a" stroke-width="0.6"/>
<circle cx="868.6" cy="1466.6" r="5.2" fill="#3c3c3c" stroke="#2a2a2a" stroke-width="0.6"/>
<circle cx="915.8" cy="1467.2" r="5.2" fill="#3c3c3c" stroke="#2a2a2a" stroke-width="0.6"/>
<circle cx="990.7" cy="1448.6" r="5.2" fill="#3c3c3c" stroke="#2a2a2a" stroke-width="0.6"/>
<mask id="m15" maskUnits="userSpaceOnUse" x="0" y="0" width="1449" height="1800"><rect width="1449" height="1800" fill="#fff"/><path d="M610.7 1609.7L619.04 1624.3L602.36 1624.3Z" fill="#000"/><path d="M612 1604.7L620.34 1619.3L603.66 1619.3Z" fill="#000"/><path d="M614 1599.7L622.34 1614.3L605.66 1614.3Z" fill="#000"/><path d="M616.5 1594.7L624.84 1609.3L608.16 1609.3Z" fill="#000"/><path d="M619.3 1589.7L627.64 1604.3L610.96 1604.3Z" fill="#000"/><path d="M622.5 1585.2L630.84 1599.8L614.16 1599.8Z" fill="#000"/><path d="M626 1581.2L634.34 1595.8L617.66 1595.8Z" fill="#000"/><path d="M630.5 1578.7L638.84 1593.3L622.16 1593.3Z" fill="#000"/><path d="M637.6 1576.6L645.94 1591.2L629.26 1591.2Z" fill="#000"/><path d="M650.1 1567.5L658.44 1582.1L641.76 1582.1Z" fill="#000"/><path d="M666.5 1565.5L674.84 1580.1L658.16 1580.1Z" fill="#000"/><path d="M686.1 1566.1L694.44 1580.7L677.76 1580.7Z" fill="#000"/><path d="M705.8 1568.7L714.14 1583.3L697.46 1583.3Z" fill="#000"/><path d="M725.4 1577L733.74 1591.6L717.06 1591.6Z" fill="#000"/><path d="M737.5 1584.8L745.84 1599.4L729.16 1599.4Z" fill="#000"/><path d="M749.1 1582L757.44 1596.6L740.76 1596.6Z" fill="#000"/><path d="M761.6 1592.5L769.94 1607.1L753.26 1607.1Z" fill="#000"/><path d="M735.3 1599.1L743.64 1613.7L726.96 1613.7Z" fill="#000"/><path d="M738.7 1611.7L747.04 1626.3L730.36 1626.3Z" fill="#000"/><path d="M740 1618.7L748.34 1633.3L731.66 1633.3Z" fill="#000"/><path d="M727.6 1629.5L735.94 1644.1L719.26 1644.1Z" fill="#000"/></mask>
<path d="M610.7 1617L612 1612L614 1607L616.5 1602L619.3 1597L622.5 1592.5L626 1588.5L630.5 1586L637.6 1583.9L650.1 1574.8L666.5 1572.8L686.1 1573.4L705.8 1576L725.4 1584.3L737.5 1592.1L749.1 1589.3L761.6 1599.8L735.3 1606.4L738.7 1619L740 1626L727.6 1636.8" stroke="#5a5a5a" stroke-width="2.3" fill="none" stroke-linejoin="round" mask="url(#m15)"/>
<path d="M610.7 1611.5L616.7 1622.5L604.7 1622.5Z" fill="#6c6c6c"/>
<path d="M612 1606.5L618 1617.5L606 1617.5Z" fill="#6c6c6c"/>
<path d="M614 1601.5L620 1612.5L608 1612.5Z" fill="#6c6c6c"/>
<path d="M616.5 1596.5L622.5 1607.5L610.5 1607.5Z" fill="#6c6c6c"/>
<path d="M619.3 1591.5L625.3 1602.5L613.3 1602.5Z" fill="#6c6c6c"/>
<path d="M622.5 1587L628.5 1598L616.5 1598Z" fill="#6c6c6c"/>
<path d="M626 1583L632 1594L620 1594Z" fill="#6c6c6c"/>
<path d="M630.5 1580.5L636.5 1591.5L624.5 1591.5Z" fill="#6c6c6c"/>
<path d="M637.6 1578.4L643.6 1589.4L631.6 1589.4Z" fill="#6c6c6c"/>
<path d="M650.1 1569.3L656.1 1580.3L644.1 1580.3Z" fill="#6c6c6c"/>
<path d="M666.5 1567.3L672.5 1578.3L660.5 1578.3Z" fill="#6c6c6c"/>
<path d="M686.1 1567.9L692.1 1578.9L680.1 1578.9Z" fill="#6c6c6c"/>
<path d="M705.8 1570.5L711.8 1581.5L699.8 1581.5Z" fill="#6c6c6c"/>
<path d="M725.4 1578.8L731.4 1589.8L719.4 1589.8Z" fill="#6c6c6c"/>
<path d="M737.5 1586.6L743.5 1597.6L731.5 1597.6Z" fill="#6c6c6c"/>
<path d="M749.1 1583.8L755.1 1594.8L743.1 1594.8Z" fill="#6c6c6c"/>
<path d="M761.6 1594.3L767.6 1605.3L755.6 1605.3Z" fill="#6c6c6c"/>
<path d="M735.3 1600.9L741.3 1611.9L729.3 1611.9Z" fill="#6c6c6c"/>
<path d="M738.7 1613.5L744.7 1624.5L732.7 1624.5Z" fill="#6c6c6c"/>
<path d="M740 1620.5L746 1631.5L734 1631.5Z" fill="#6c6c6c"/>
<path d="M727.6 1631.3L733.6 1642.3L721.6 1642.3Z" fill="#6c6c6c"/>
<path d="M539.8 1318H558.6M577.8 1318H596.6" stroke="#2e2e2e" stroke-width="2.6"/>
<rect x="563" y="1313.2" width="9.6" height="9.6" fill="#2e2e2e"/>
<text x="602.8" y="1326.6" font-size="24.3">Austenite</text>
<path d="M539.8 1348.9H558.6M577.8 1348.9H596.6" stroke="#2e2e2e" stroke-width="2.6"/>
<circle cx="567.8" cy="1348.9" r="5.4" fill="#3c3c3c" stroke="#2a2a2a" stroke-width="0.6"/>
<text x="602.8" y="1357.5" font-size="24.3">Ferrite</text>
<path d="M539.8 1379.6H558.6M577.8 1379.6H596.6" stroke="#5a5a5a" stroke-width="2.2"/>
<path d="M567.8 1373.85L574 1384.35L561.6 1384.35Z" fill="#6c6c6c"/>
<text x="602.8" y="1388.2" font-size="24.3">Bulk region</text>
</g></svg></body></html>
